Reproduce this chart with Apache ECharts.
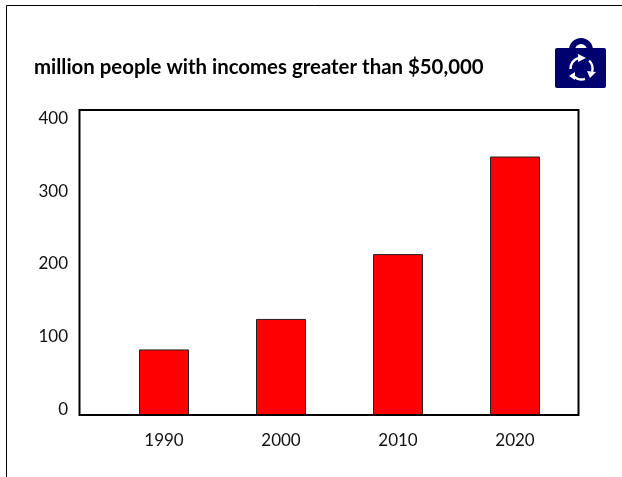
<!DOCTYPE html>
<html><head><meta charset="utf-8">
<style>html,body{margin:0;padding:0;background:#fff}#c{width:622px;height:477px}</style>
<script src="https://cdn.jsdelivr.net/npm/echarts@6/dist/echarts.min.js"></script>
</head><body><div id="c"></div>
<script>
const titleText = 'million people with incomes greater than $50,000';
const categories = ['1990','2000','2010','2020'];
const values = [86,126,211,339];
const font = 'Lato';
const chart = echarts.init(document.getElementById('c'),null,{renderer:'canvas'});
const ink = '#00006e';
const cx = 581.5, cy = 68.5, r = 11;
chart.setOption({
  animation:false,
  backgroundColor:'#fff',
  title:{text:titleText,left:34,top:57,textStyle:{fontFamily:font,fontSize:20.4,fontWeight:'bold',color:'#000'},padding:0},
  grid:[
    {left:105.5,right:48.5,top:110,bottom:62},
    {left:79,right:44,top:118.5,bottom:67.5}
  ],
  xAxis:[
    {type:'category',gridIndex:0,data:categories,axisLine:{show:false},axisTick:{show:false},
     axisLabel:{color:'#111',fontFamily:font,fontSize:17,margin:17}},
    {type:'category',gridIndex:1,show:false,data:categories}
  ],
  yAxis:[
    {type:'value',gridIndex:0,min:0,max:400,interval:100,axisLine:{show:false},axisTick:{show:false},axisLabel:{show:false},splitLine:{show:false}},
    {type:'value',gridIndex:1,min:0,max:400,interval:100,axisLine:{show:false},axisTick:{show:false},splitLine:{show:false},
     axisLabel:{color:'#111',fontFamily:font,fontSize:17,margin:11}}
  ],
  series:[{type:'bar',xAxisIndex:0,yAxisIndex:0,data:values,barWidth:50,z:2,
    itemStyle:{color:'#ff0000',borderColor:'#222',borderWidth:1}}],
  graphic:[
    {type:'line',z:10,shape:{x1:6.5,y1:5.5,x2:622,y2:5.5},style:{stroke:'#000',lineWidth:1}},
    {type:'line',z:10,shape:{x1:6.5,y1:5.5,x2:6.5,y2:477},style:{stroke:'#000',lineWidth:1}},
    {type:'rect',z:10,shape:{x:79.5,y:110,width:499,height:305},style:{fill:'none',stroke:'#000',lineWidth:2}},
    {type:'group',z:10,x:0,y:0,children:[
      {type:'arc',shape:{cx:581,cy:50,r:9,startAngle:Math.PI,endAngle:2*Math.PI},style:{fill:'none',stroke:ink,lineWidth:6}},
      {type:'rect',shape:{x:555,y:48,width:51,height:40,r:2},style:{fill:ink}},
      {type:'arc',z:11,shape:{cx:cx,cy:cy,r:r,startAngle:3.1,endAngle:4.4},style:{fill:'none',stroke:'#fff',lineWidth:2.4}},
      {type:'arc',z:11,shape:{cx:cx,cy:cy,r:r,startAngle:-0.8,endAngle:0.3},style:{fill:'none',stroke:'#fff',lineWidth:2.4}},
      {type:'arc',z:11,shape:{cx:cx,cy:cy,r:r,startAngle:1.25,endAngle:2.6},style:{fill:'none',stroke:'#fff',lineWidth:2.4}},
      {type:'polygon',z:11,shape:{points:[[578,54],[586,58],[578,62]]},style:{fill:'#fff'}},
      {type:'polygon',z:11,shape:{points:[[587,71],[596,72],[590,78]]},style:{fill:'#fff'}},
      {type:'polygon',z:11,shape:{points:[[575,72],[575,80],[569,76]]},style:{fill:'#fff'}}
    ]}
  ]
});
</script></body></html>
